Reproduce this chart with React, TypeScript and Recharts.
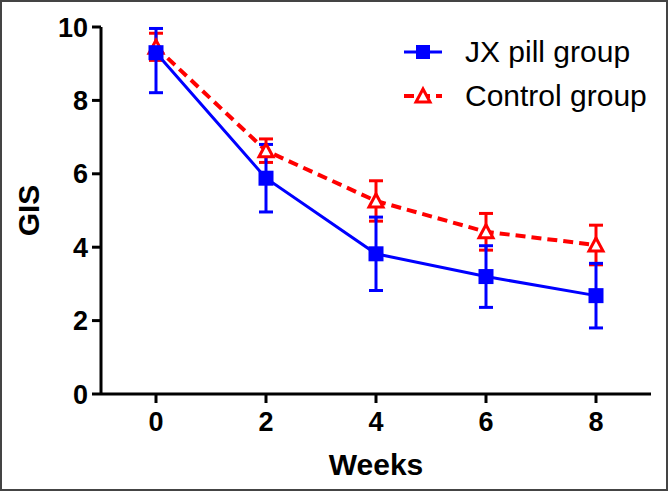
import React from 'react';
import {
  LineChart,
  Line,
  XAxis,
  YAxis,
  ErrorBar,
} from 'recharts';

const weeks = [0, 2, 4, 6, 8];
const jxMean = [9.3, 5.88, 3.82, 3.2, 2.68];
// [below, above]; week 0 is cut at the axis top in the original
const jxErr = [[1.09, 0.66], [0.92, 0.92], [1.0, 1.0], [0.84, 0.84], [0.88, 0.88]];
const ctrlMean = [9.45, 6.63, 5.26, 4.42, 4.06];
const ctrlErr = [[0.36, 0.38], [0.32, 0.32], [0.55, 0.55], [0.5, 0.5], [0.54, 0.54]];
const yTicks = [0, 2, 4, 6, 8, 10];
const seriesNames = ['JX pill group', 'Control group'];

const data = weeks.map((w, i) => ({
  week: w,
  jx: jxMean[i],
  jxErr: jxErr[i],
  ctrl: ctrlMean[i],
  ctrlErr: ctrlErr[i],
}));

const BLUE = '#0000ff';
const RED = '#ff0000';
const FONT = 'Arial, "Liberation Sans", Helvetica, sans-serif';

const axisStyle = {
  stroke: '#000',
  strokeWidth: 3,
  tickLine: { stroke: '#000', strokeWidth: 3 },
  tick: { fill: '#000', fontSize: 27, fontWeight: 700, fontFamily: FONT },
};

function SquareDot(props: any) {
  const { cx, cy } = props;
  if (cx == null || cy == null) return null;
  return <rect x={cx - 7.5} y={cy - 7.5} width={15} height={15} fill={BLUE} />;
}

function TriangleDot(props: any) {
  const { cx, cy } = props;
  if (cx == null || cy == null) return null;
  return (
    <path
      d={`M${cx},${cy - 7} L${cx + 7},${cy + 6} L${cx - 7},${cy + 6} Z`}
      fill="#fff"
      stroke={RED}
      strokeWidth={3}
    />
  );
}

function GisLabel(props: any) {
  const { viewBox } = props;
  const x = viewBox.x + 28;
  const y = viewBox.y + viewBox.height / 2;
  return (
    <text
      x={x}
      y={y}
      transform={`rotate(-90 ${x} ${y})`}
      textAnchor="middle"
      dominantBaseline="central"
      fontSize={30}
      fontWeight={700}
      fontFamily={FONT}
      fill="#000"
    >
      GIS
    </text>
  );
}

function LegendBox() {
  const rows = [
    { name: seriesNames[0], color: BLUE, dash: undefined, square: true },
    { name: seriesNames[1], color: RED, dash: '10 6', square: false },
  ];
  return (
    <div style={{ position: 'absolute', left: 403, top: 30, fontFamily: FONT }}>
      {rows.map((r) => (
        <div key={r.name} style={{ display: 'flex', alignItems: 'center', height: 44 }}>
          <svg width={40} height={24} style={{ marginRight: 22 }}>
            <line x1={1} y1={12} x2={39} y2={12} stroke={r.color} strokeWidth={r.square ? 3 : 4} strokeDasharray={r.dash} />
            {r.square ? (
              <rect x={13} y={5} width={14} height={14} fill={BLUE} />
            ) : (
              <path d="M20,5 L27,18 L13,18 Z" fill="#fff" stroke={RED} strokeWidth={3} />
            )}
          </svg>
          <span style={{ fontSize: 30, color: '#000', lineHeight: '44px', whiteSpace: 'nowrap' }}>{r.name}</span>
        </div>
      ))}
    </div>
  );
}

export default function App() {
  return (
    <div style={{ position: 'absolute', left: 0, top: 0, width: 668, height: 491, background: '#fff' }}>
      <LineChart width={668} height={491} data={data} margin={{ top: 27, right: 17, left: 0, bottom: 0 }}>
        <XAxis
          dataKey="week"
          type="number"
          domain={[-1, 9]}
          ticks={weeks}
          height={97}
          tickSize={9}
          tickMargin={9}
          {...axisStyle}
          label={{
            value: 'Weeks',
            position: 'insideBottom',
            offset: 16,
            fill: '#000',
            fontSize: 30,
            fontWeight: 700,
            fontFamily: FONT,
          }}
        />
        <YAxis
          type="number"
          domain={[0, 10]}
          ticks={yTicks}
          width={101}
          tickSize={9}
          tickMargin={4}
          {...axisStyle}
          label={<GisLabel />}
        />
        <Line
          dataKey="ctrl"
          name={seriesNames[1]}
          stroke={RED}
          strokeWidth={4}
          strokeDasharray="10 6"
          dot={<TriangleDot />}
          activeDot={false}
          isAnimationActive={false}
        >
          <ErrorBar dataKey="ctrlErr" direction="y" width={7} stroke={RED} strokeWidth={3} />
        </Line>
        <Line
          dataKey="jx"
          name={seriesNames[0]}
          stroke={BLUE}
          strokeWidth={3}
          dot={<SquareDot />}
          activeDot={false}
          isAnimationActive={false}
        >
          <ErrorBar dataKey="jxErr" direction="y" width={7} stroke={BLUE} strokeWidth={3} />
        </Line>
      </LineChart>
      <LegendBox />
      <div
        style={{
          position: 'absolute',
          left: 0,
          top: 0,
          width: 668,
          height: 491,
          boxSizing: 'border-box',
          border: '2px solid #444',
          pointerEvents: 'none',
        }}
      />
    </div>
  );
}
